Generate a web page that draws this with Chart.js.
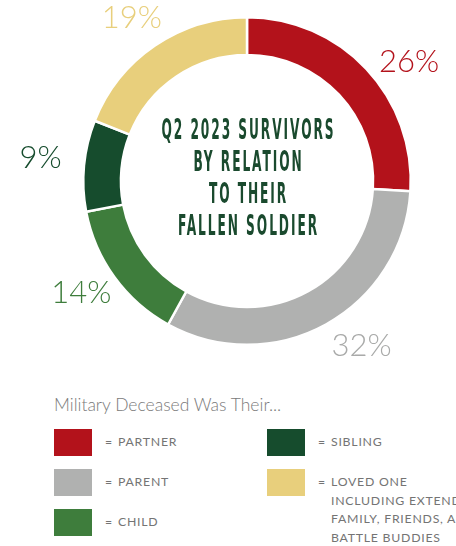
<!DOCTYPE html>
<html>
<head>
<meta charset="utf-8">
<script src="https://cdn.jsdelivr.net/npm/chart.js@4"></script>
<style>
  html, body { margin:0; padding:0; background:#fff; width:456px; height:546px; overflow:hidden; }
  #wrap { position:absolute; left:0; top:0; width:456px; height:380px; }
  #legendTitle { position:absolute; left:54px; top:394px; font-family:Lato, "Open Sans", sans-serif; font-weight:300; font-size:17.5px; color:#7a7a7a; white-space:nowrap; }
  .item { position:absolute; display:flex; align-items:flex-start; }
  .sw { width:38px; height:27px; flex:none; }
  .txt { margin-left:13px; font-family:Lato, "Open Sans", sans-serif; font-weight:400; font-size:12.3px; letter-spacing:0.75px; color:#747474; line-height:18.7px; display:flex; white-space:nowrap; padding-top:4px; }
  .eq { width:13px; flex:none; }
</style>
</head>
<body>
<div id="wrap"><canvas id="c" width="456" height="380"></canvas></div>
<div id="legendTitle"></div>
<div id="legend"></div>
<script>
const categories = ['Partner', 'Parent', 'Child', 'Sibling', 'Loved One'];
const percentValues = [26, 32, 14, 9, 19];
const legendLabels = ['PARTNER', 'PARENT', 'CHILD', 'SIBLING', 'LOVED ONE\nINCLUDING EXTENDED\nFAMILY, FRIENDS, AND\nBATTLE BUDDIES'];
const centerTitle = ['Q2 2023 SURVIVORS', 'BY RELATION', 'TO THEIR', 'FALLEN SOLDIER'];
const legendHeading = 'Military Deceased Was Their...';
const sliceColors = ['#b3121b', '#b0b1b0', '#3e7d3c', '#164c2d', '#e8cf7c'];
const labelColors = ['#b3121b', '#a9aaa9', '#3e7d3c', '#164c2d', '#e8cf7c'];

const labelPlugin = {
  id: 'outerLabels',
  afterDraw(chart, args, opts) {
    const ctx = chart.ctx;
    const meta = chart.getDatasetMeta(0);
    ctx.save();
    ctx.font = '300 31px Lato, "Open Sans", sans-serif';
    ctx.textAlign = 'center';
    ctx.textBaseline = 'middle';
    meta.data.forEach((arc, i) => {
      const mid = (arc.startAngle + arc.endAngle) / 2 + (opts.nudge[i] || 0) * Math.PI / 180;
      const r = arc.outerRadius + opts.gap[i];
      const x = arc.x + r * Math.cos(mid);
      const y = arc.y + r * Math.sin(mid);
      ctx.fillStyle = labelColors[i];
      ctx.fillText(chart.data.datasets[0].data[i] + '%', x, y);
    });
    // center title
    const a0 = meta.data[0];
    ctx.fillStyle = '#1a4a2e';
    ctx.font = 'bold 28px "DejaVu Sans Condensed", "DejaVu Sans", sans-serif';
    ctx.letterSpacing = '4px';
    const w0 = ctx.measureText(centerTitle[0]).width;
    const sx = 174 / w0;
    centerTitle.forEach((line, i) => {
      const y = a0.y + (i - 1.5) * 32 - 1;
      ctx.save();
      ctx.translate(a0.x + 1.5, y);
      ctx.scale(sx, 1);
      ctx.fillText(line, 0, 0);
      ctx.restore();
    });
    ctx.restore();
  }
};

new Chart(document.getElementById('c'), {
  type: 'doughnut',
  data: {
    labels: categories,
    datasets: [{
      data: percentValues,
      backgroundColor: sliceColors,
      borderColor: '#ffffff',
      borderWidth: 2.5,
      hoverOffset: 0
    }]
  },
  options: {
    responsive: false,
    animation: false,
    cutout: '77%',
    layout: { padding: { left: 82, right: 44, top: 16, bottom: 34 } },
    plugins: {
      legend: { display: false },
      tooltip: { enabled: false },
      outerLabels: { nudge: [7, -6, 2, 1, -1], gap: [37, 37, 36, 44, 36] }
    }
  },
  plugins: [labelPlugin]
});

document.getElementById('legendTitle').textContent = legendHeading;
const leg = document.getElementById('legend');
categories.forEach((c, i) => {
  const col = Math.floor(i / 3), row = i % 3;
  const it = document.createElement('div');
  it.className = 'item';
  it.style.left = (54 + col * 213) + 'px';
  it.style.top = (429 + row * 40) + 'px';
  const sw = document.createElement('div');
  sw.className = 'sw';
  sw.style.background = sliceColors[i];
  const tx = document.createElement('div');
  tx.className = 'txt';
  const eq = document.createElement('span');
  eq.className = 'eq';
  eq.textContent = '=';
  const lines = document.createElement('div');
  legendLabels[i].split('\n').forEach(l => {
    const d = document.createElement('div');
    d.textContent = l;
    lines.appendChild(d);
  });
  tx.appendChild(eq);
  tx.appendChild(lines);
  it.appendChild(sw);
  it.appendChild(tx);
  leg.appendChild(it);
});
</script>
</body>
</html>
